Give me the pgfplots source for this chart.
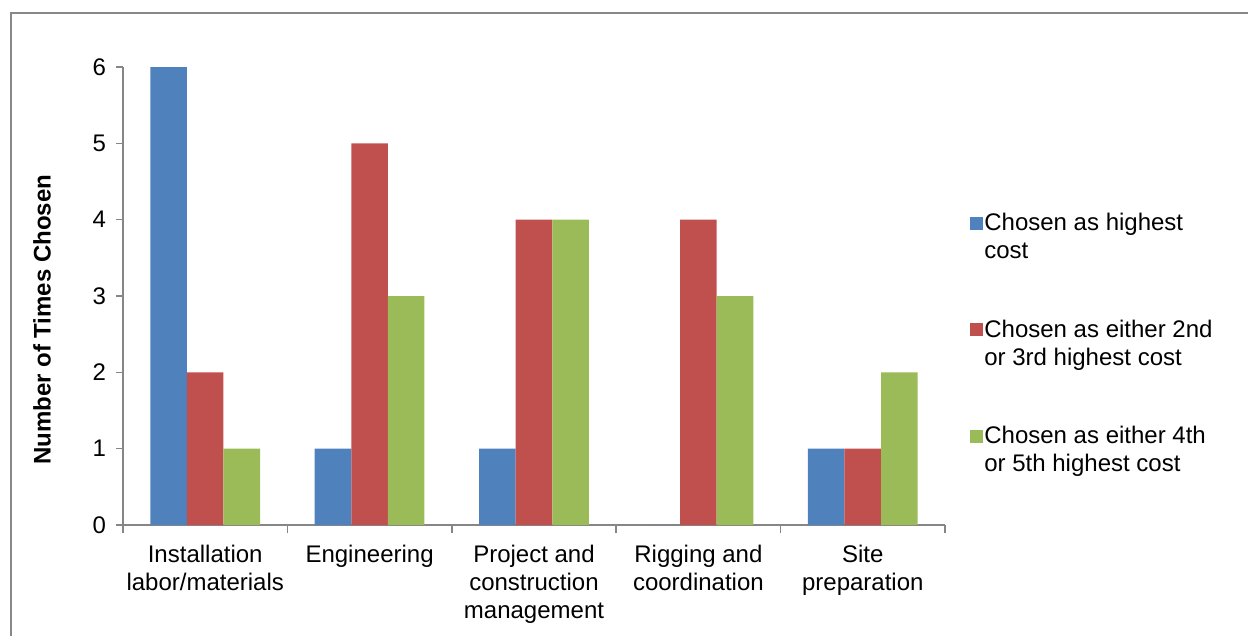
\documentclass[border=0pt]{standalone}
\usepackage{pgfplots}
\pgfplotsset{compat=1.18}
\usepackage{fontspec}
\setmainfont{Liberation Sans}

\definecolor{serA}{HTML}{4F81BD}
\definecolor{serB}{HTML}{C0504D}
\definecolor{serC}{HTML}{9BBB59}
\definecolor{axgray}{HTML}{868686}
\definecolor{framegray}{HTML}{888888}

\begin{document}
\begin{tikzpicture}
\useasboundingbox (0pt,0pt) rectangle (624pt,-318pt);
% chart frame
\draw[framegray, line width=1pt] (5.3pt,-330pt) -- (5.3pt,-6.3pt) -- (640pt,-6.3pt);

\begin{axis}[
  at={(61.5pt,-262.5pt)}, anchor=south west,
  scale only axis, width=411pt, height=229pt,
  font=\fontsize{12}{14}\selectfont,
  ybar=0pt, bar width=18.3pt,
  xmin=-0.5, xmax=4.5, ymin=0, ymax=6,
  axis x line*=bottom, axis y line*=left,
  axis line style={axgray, line width=0.8pt, -},
  every tick/.style={axgray, line width=0.8pt},
  tick align=outside,
  major tick length=3.5pt,
  ytick={0,1,2,3,4,5,6},
  y tick label style={xshift=-1.5pt},
  /pgf/number format/assume math mode=true,
  xtick={0,1,2,3,4},
  xticklabels={Installation\\labor/materials, Engineering, Project and\\construction\\management, Rigging and\\coordination, Site\\preparation},
  x tick label style={align=center, anchor=north, yshift=-3pt},
  major x tick style={draw=none},
  extra x ticks={-0.5,0.5,1.5,2.5,3.5,4.5},
  extra x tick labels={},
  extra x tick style={major tick length=4pt, major x tick style={draw=axgray, line width=0.8pt}},
  ylabel={\bfseries Number of Times Chosen},
  ylabel style={at={(axis description cs:-0.0985,0.448)}, anchor=center},
  legend style={at={(axis description cs:1.0231,0.692)}, anchor=north west,
    draw=none, fill=none, row sep=28pt,
    nodes={align=left, inner sep=0.5pt, font=\fontsize{12}{14}\selectfont}},
  legend cell align=left,
  legend image code/.code={\fill[#1] (0pt,3.9pt) rectangle (6.5pt,10.4pt);},
]
\addplot[fill=serA, draw=none] coordinates {(0,6) (1,1) (2,1) (3,0) (4,1)};
\addplot[fill=serB, draw=none] coordinates {(0,2) (1,5) (2,4) (3,4) (4,1)};
\addplot[fill=serC, draw=none] coordinates {(0,1) (1,3) (2,4) (3,3) (4,2)};
\legend{Chosen as highest\\cost, Chosen as either 2nd\\or 3rd highest cost, Chosen as either 4th\\or 5th highest cost}
\end{axis}
\end{tikzpicture}
\end{document}
